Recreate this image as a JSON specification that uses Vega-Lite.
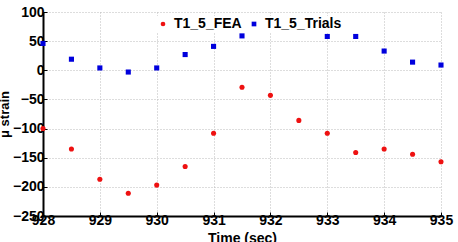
{
  "$schema": "https://vega.github.io/schema/vega-lite/v6.json",
  "autosize": {"type": "none"},
  "width": 398,
  "height": 204,
  "padding": {"left": 43, "top": 12, "right": 17, "bottom": 26},
  "background": "white",
  "config": {
    "font": "Arial",
    "view": {"stroke": null}
  },
  "data": {
    "values": [
      {"t": 928.0, "v": -100, "s": "T1_5_FEA"},
      {"t": 928.5, "v": -135, "s": "T1_5_FEA"},
      {"t": 929.0, "v": -187, "s": "T1_5_FEA"},
      {"t": 929.5, "v": -211, "s": "T1_5_FEA"},
      {"t": 930.0, "v": -197, "s": "T1_5_FEA"},
      {"t": 930.5, "v": -165, "s": "T1_5_FEA"},
      {"t": 931.0, "v": -108, "s": "T1_5_FEA"},
      {"t": 931.5, "v": -29, "s": "T1_5_FEA"},
      {"t": 932.0, "v": -43, "s": "T1_5_FEA"},
      {"t": 932.5, "v": -86, "s": "T1_5_FEA"},
      {"t": 933.0, "v": -108, "s": "T1_5_FEA"},
      {"t": 933.5, "v": -141, "s": "T1_5_FEA"},
      {"t": 934.0, "v": -135, "s": "T1_5_FEA"},
      {"t": 934.5, "v": -144, "s": "T1_5_FEA"},
      {"t": 935.0, "v": -157, "s": "T1_5_FEA"},
      {"t": 928.0, "v": 46, "s": "T1_5_Trials"},
      {"t": 928.5, "v": 19, "s": "T1_5_Trials"},
      {"t": 929.0, "v": 4, "s": "T1_5_Trials"},
      {"t": 929.5, "v": -3, "s": "T1_5_Trials"},
      {"t": 930.0, "v": 4, "s": "T1_5_Trials"},
      {"t": 930.5, "v": 27, "s": "T1_5_Trials"},
      {"t": 931.0, "v": 41, "s": "T1_5_Trials"},
      {"t": 931.5, "v": 59, "s": "T1_5_Trials"},
      {"t": 933.0, "v": 58, "s": "T1_5_Trials"},
      {"t": 933.5, "v": 58, "s": "T1_5_Trials"},
      {"t": 934.0, "v": 33, "s": "T1_5_Trials"},
      {"t": 934.5, "v": 14, "s": "T1_5_Trials"},
      {"t": 935.0, "v": 9, "s": "T1_5_Trials"}
    ]
  },
  "mark": {"type": "point", "filled": true, "opacity": 1, "size": 26},
  "encoding": {
    "x": {
      "field": "t",
      "type": "quantitative",
      "scale": {"domain": [928, 935], "nice": false, "zero": false},
      "axis": {
        "title": "Time (sec)",
        "values": [928, 929, 930, 931, 932, 933, 934, 935],
        "format": "d",
        "labelFont": "Arial",
        "labelFontWeight": 700,
        "labelFontSize": 14,
        "labelColor": "black",
        "labelPadding": 1,
        "labelFlush": false,
        "labelOverlap": false,
        "titleFont": "Arial",
        "titleFontWeight": 700,
        "titleFontSize": 14,
        "titleColor": "black",
        "titlePadding": 4,
        "domainColor": "black",
        "domainWidth": 2,
        "tickColor": "black",
        "tickSize": -4,
        "tickWidth": 1,
        "grid": true,
        "gridColor": "#bbbbbb",
        "gridDash": [1, 2],
        "gridWidth": 1
      }
    },
    "y": {
      "field": "v",
      "type": "quantitative",
      "scale": {"domain": [-250, 100], "nice": false, "zero": false},
      "axis": {
        "title": "μ strain",
        "values": [-250, -200, -150, -100, -50, 0, 50, 100],
        "labelFont": "Arial",
        "labelFontWeight": 700,
        "labelFontSize": 14,
        "labelColor": "black",
        "labelPadding": 3,
        "labelFlush": false,
        "labelOverlap": false,
        "titleFont": "Arial",
        "titleFontWeight": 700,
        "titleFontSize": 13,
        "titleColor": "black",
        "titlePadding": 1,
        "domainColor": "black",
        "domainWidth": 2,
        "tickColor": "black",
        "tickSize": -4,
        "tickWidth": 1,
        "grid": true,
        "gridColor": "#bbbbbb",
        "gridDash": [1, 2],
        "gridWidth": 1
      }
    },
    "color": {
      "field": "s",
      "type": "nominal",
      "scale": {"domain": ["T1_5_FEA", "T1_5_Trials"], "range": ["#ee1111", "#0000dd"]},
      "legend": {
        "title": null,
        "orient": "none",
        "direction": "horizontal",
        "legendX": 112,
        "legendY": 4,
        "fillColor": "white",
        "padding": 1,
        "labelFont": "Arial",
        "labelFontWeight": 700,
        "labelFontSize": 14,
        "labelColor": "black",
        "symbolSize": 22,
        "symbolOffset": 0,
        "columnPadding": 5,
        "labelOffset": 4
      }
    },
    "shape": {
      "field": "s",
      "type": "nominal",
      "scale": {"domain": ["T1_5_FEA", "T1_5_Trials"], "range": ["circle", "square"]}
    }
  }
}
